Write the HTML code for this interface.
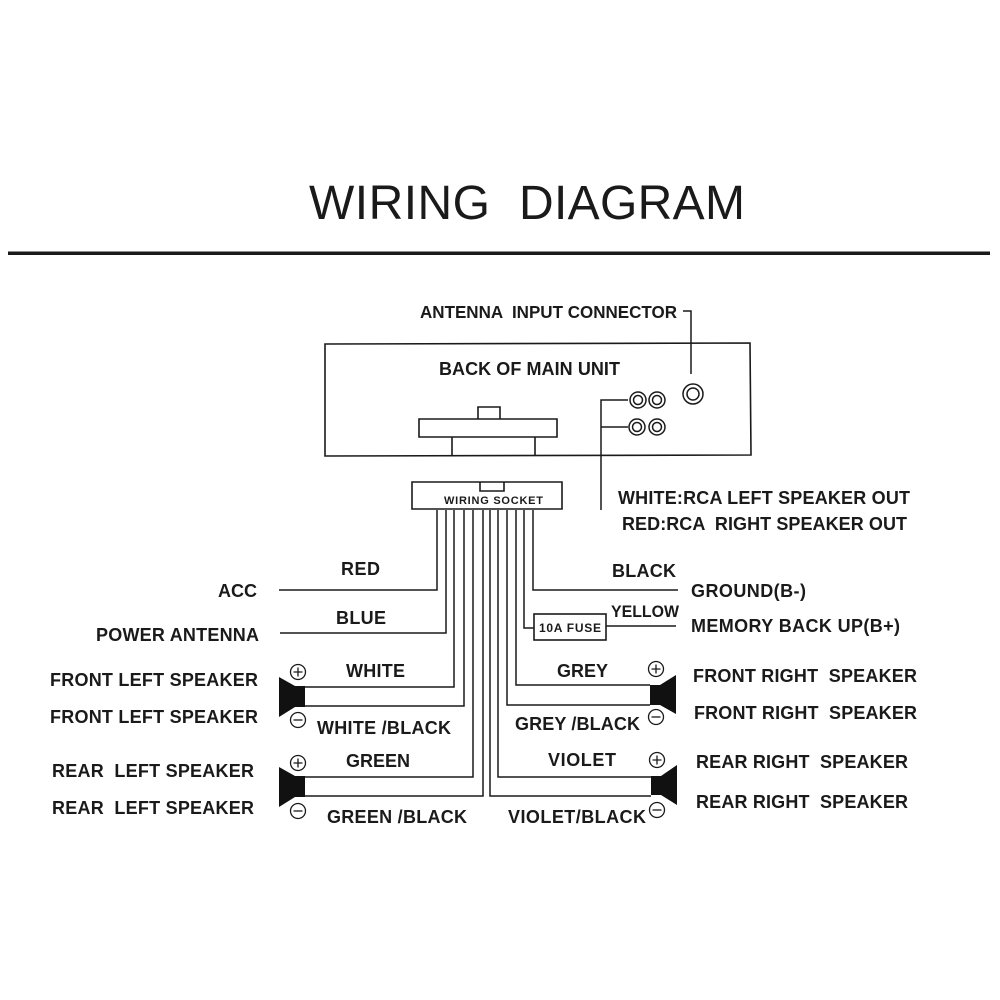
<!DOCTYPE html>
<html><head><meta charset="utf-8"><style>
html,body{margin:0;padding:0;background:#fff}
svg{display:block}
text{font-family:"Liberation Sans",sans-serif;font-weight:bold;font-size:18px;fill:#1a1a1a;white-space:pre}
.w{fill:none;stroke:#1a1a1a;stroke-width:1.6}
.t{fill:none;stroke:#1a1a1a;stroke-width:1.5}
</style></head><body>
<svg width="1000" height="1000" viewBox="0 0 1000 1000" xmlns="http://www.w3.org/2000/svg">
<rect width="1000" height="1000" fill="#fff"/>
<text x="309" y="219" textLength="181" lengthAdjust="spacing" style="font-size:48px;font-weight:normal">WIRING</text>
<text x="519" y="219" textLength="226" lengthAdjust="spacing" style="font-size:48px;font-weight:normal">DIAGRAM</text>
<rect x="8" y="251.500" width="982" height="3.500" fill="#1a1a1a"/>

<!-- main unit -->
<path class="w" d="M325 344L750 343L751 455L325 456Z"/>
<path class="w" d="M419 419H557V437H419Z M478 419V407H500V419 M452 437V456 M535 437V456"/>
<path class="t" d="M683 311H691V374"/>
<path class="t" d="M628 400H601V510 M601 427H628"/>
<g fill="none" stroke="#1a1a1a" stroke-width="1.500">
<circle cx="638" cy="400" r="8"/><circle cx="638" cy="400" r="4.500"/>
<circle cx="657" cy="400" r="8"/><circle cx="657" cy="400" r="4.500"/>
<circle cx="637" cy="427" r="8"/><circle cx="637" cy="427" r="4.500"/>
<circle cx="657" cy="427" r="8"/><circle cx="657" cy="427" r="4.500"/>
<circle cx="693" cy="394" r="10"/><circle cx="693" cy="394" r="6"/>
</g>

<!-- socket -->
<path class="w" d="M412 482H562V509H412Z M480 482V491H504V482"/>

<!-- wires -->
<path class="t" d="M437 510V590H279"/>
<path class="t" d="M446 510V633H280"/>
<path class="t" d="M454 510V687H305"/>
<path class="t" d="M464 510V706H305"/>
<path class="t" d="M473 510V777H305"/>
<path class="t" d="M483 510V796H305"/>
<path class="t" d="M490 510V796H651"/>
<path class="t" d="M498 510V777H651"/>
<path class="t" d="M507 510V705H650"/>
<path class="t" d="M516 510V685H650"/>
<path class="t" d="M524 510V628H534"/>
<path class="t" d="M533 510V590H678"/>
<rect class="w" x="534" y="614" width="72" height="26"/>
<path class="t" d="M606 626H676"/>

<!-- speakers -->
<g fill="#111">
<path d="M279 677L295 686H305V707H295L279 717Z"/>
<path d="M279 767L295 776H305V797H295L279 807Z"/>
<path d="M676 675L660 685H650V705H660L676 714Z"/>
<path d="M677 765L661 776H651V795H661L677 805Z"/>
</g>
<g fill="none" stroke="#1a1a1a" stroke-width="1.300">
<circle cx="298" cy="672" r="7.500"/><path d="M293.500 672H302.500M298 667.500V676.500"/>
<circle cx="298" cy="720" r="7.500"/><path d="M293.500 720H302.500"/>
<circle cx="298" cy="763" r="7.500"/><path d="M293.500 763H302.500M298 758.500V767.500"/>
<circle cx="298" cy="811" r="7.500"/><path d="M293.500 811H302.500"/>
<circle cx="656" cy="669" r="7.500"/><path d="M651.500 669H660.500M656 664.500V673.500"/>
<circle cx="656" cy="717" r="7.500"/><path d="M651.500 717H660.500"/>
<circle cx="657" cy="760" r="7.500"/><path d="M652.500 760H661.500M657 755.500V764.500"/>
<circle cx="657" cy="810" r="7.500"/><path d="M652.500 810H661.500"/>
</g>

<!-- labels -->
<text x="420" y="318" textLength="257" lengthAdjust="spacingAndGlyphs" style="font-size:17.500px">ANTENNA  INPUT CONNECTOR</text>
<text x="439" y="375" textLength="181" lengthAdjust="spacing">BACK OF MAIN UNIT</text>
<text x="618" y="504" textLength="292" lengthAdjust="spacing">WHITE:RCA LEFT SPEAKER OUT</text>
<text x="622" y="530" textLength="285" lengthAdjust="spacing">RED:RCA  RIGHT SPEAKER OUT</text>
<text x="444" y="504" textLength="99" lengthAdjust="spacing" style="font-size:11px">WIRING SOCKET</text>
<text x="341" y="575" textLength="39" lengthAdjust="spacing">RED</text>
<text x="336" y="624" textLength="50" lengthAdjust="spacing">BLUE</text>
<text x="218" y="597" textLength="39" lengthAdjust="spacing">ACC</text>
<text x="96" y="641" textLength="163" lengthAdjust="spacing">POWER ANTENNA</text>
<text x="612" y="577" textLength="64" lengthAdjust="spacing">BLACK</text>
<text x="691" y="597" textLength="115" lengthAdjust="spacing">GROUND(B-)</text>
<text x="611" y="617" textLength="68" lengthAdjust="spacingAndGlyphs" style="font-size:17px">YELLOW</text>
<text x="691" y="632" textLength="209" lengthAdjust="spacing">MEMORY BACK UP(B+)</text>
<text x="539" y="632" textLength="62" lengthAdjust="spacing" style="font-size:12px">10A FUSE</text>
<text x="50" y="686" textLength="208" lengthAdjust="spacing">FRONT LEFT SPEAKER</text>
<text x="50" y="723" textLength="208" lengthAdjust="spacing">FRONT LEFT SPEAKER</text>
<text x="52" y="777" textLength="202" lengthAdjust="spacing">REAR  LEFT SPEAKER</text>
<text x="52" y="814" textLength="202" lengthAdjust="spacing">REAR  LEFT SPEAKER</text>
<text x="346" y="677" textLength="59" lengthAdjust="spacing">WHITE</text>
<text x="317" y="734" textLength="134" lengthAdjust="spacing">WHITE /BLACK</text>
<text x="346" y="767" textLength="64" lengthAdjust="spacing">GREEN</text>
<text x="327" y="823" textLength="140" lengthAdjust="spacing">GREEN /BLACK</text>
<text x="557" y="677" textLength="51" lengthAdjust="spacing">GREY</text>
<text x="515" y="730" textLength="125" lengthAdjust="spacing">GREY /BLACK</text>
<text x="548" y="766" textLength="68" lengthAdjust="spacing">VIOLET</text>
<text x="508" y="823" textLength="138" lengthAdjust="spacing">VIOLET/BLACK</text>
<text x="693" y="682" textLength="224" lengthAdjust="spacing">FRONT RIGHT  SPEAKER</text>
<text x="694" y="719" textLength="223" lengthAdjust="spacing">FRONT RIGHT  SPEAKER</text>
<text x="696" y="768" textLength="212" lengthAdjust="spacing">REAR RIGHT  SPEAKER</text>
<text x="696" y="808" textLength="212" lengthAdjust="spacing">REAR RIGHT  SPEAKER</text>
</svg>
</body></html>
